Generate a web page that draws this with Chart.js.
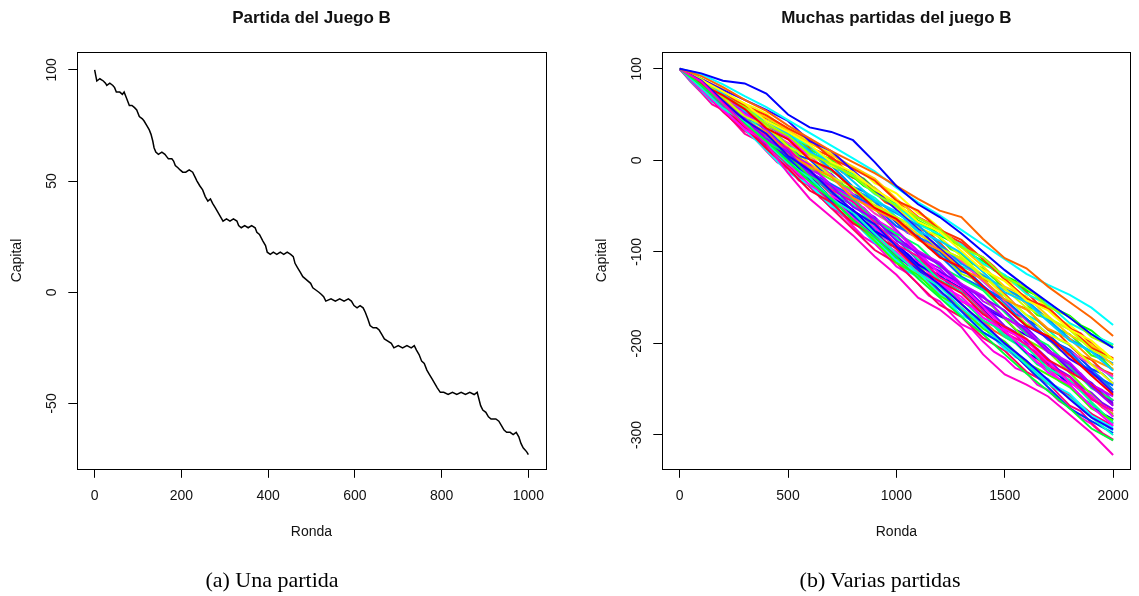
<!DOCTYPE html>
<html>
<head>
<meta charset="utf-8">
<script src="https://cdn.jsdelivr.net/npm/chart.js@4.4.1/dist/chart.umd.min.js"></script>
<style>
body { margin: 0; background: #fff; width: 1139px; height: 596px; position: relative; overflow: hidden; }
canvas { position: absolute; top: 0; }
#cA { left: 0; }
#cB { left: 585px; }
.cap { position: absolute; top: 569px; font-family: "Liberation Serif", serif; font-size: 22px; line-height: 22px; color: #000; transform: translateX(-50%); white-space: nowrap; }
</style>
</head>
<body>
<canvas id="cA" width="569" height="596"></canvas>
<canvas id="cB" width="554" height="596"></canvas>
<div class="cap" style="left:272px">(a) Una partida</div>
<div class="cap" style="left:880px">(b) Varias partidas</div>
<script>
// Panel (a): una partida
var rondaA = [0,3,5,12,20,25,28,35,42,46, 50,58,64,68,72,76,80,86,92,97,
  103,110,114,120,126,130,134,137,141,147, 155,162,166,170,178,182,186,192,197,203,
  210,218,226,231,236,242,249,255,261,267, 272,278,284,290,296,304,312,320,328,332,
  338,346,354,362,370,374,380,388,394,398, 405,412,420,428,436,444,452,458,462,468,
  474,480,486,492,498,503,510,517,523,528, 533,545,555,565,575,585,592,598,605,612,
  619,624,630,635,642,650,656,662,668,676, 684,690,700,710,720,730,737,742,748,754,
  760,766,772,778,784,790,797,805,815,825, 835,845,855,865,875,882,886,890,895,902,
  908,914,925,932,938,944,950,958,965,972, 978,983,988,993,997,1000];
var capitalA = [100,97,95,96,95,94,93,94,93,92, 90,90,89,90,88,86,84,84,83,82,
  79,78,77,75,73,71,68,65,63,62, 63,62,61,60,60,59,57,56,55,54,
  54,55,54,52,50,48,46,43,41,42, 40,38,36,34,32,33,32,33,32,30,
  29,30,29,30,29,27,26,23,21,18, 17,18,17,18,17,18,17,16,13,11,
  9,7,6,5,4,2,1,0,-1,-2, -4,-3,-4,-3,-4,-3,-4,-6,-7,-6,
  -7,-9,-12,-15,-16,-16,-17,-19,-21,-22, -23,-25,-24,-25,-24,-25,-24,-26,-28,-31,
  -32,-35,-37,-39,-41,-43,-45,-45,-46,-45, -46,-45,-46,-45,-46,-45,-48,-51,-53,-54,
  -56,-57,-57,-58,-60,-62,-63,-63,-64,-63, -65,-68,-70,-71,-72,-73];
var ticksXA = [0, 200, 400, 600, 800, 1000];
var ticksYA = [-50, 0, 50, 100];

// Panel (b): muchas partidas (cada 100 rondas)
var rondaB = [0,100,200,300,400,500,600,700,800,900,1000,1100,1200,1300,1400,1500,1600,1700,1800,1900,2000];
var p01 = [100,95,87,84,73,50,36,31,22,-2,-28,-48,-62,-80,-100,-120,-138,-155,-172,-190,-205];
var p02 = [100,92,80,66,54,38,24,10,-2,-14,-28,-42,-55,-62,-86,-107,-118,-138,-155,-172,-192];
var p03 = [100,94,83,70,58,44,30,16,2,-12,-30,-46,-60,-76,-92,-108,-124,-136,-147,-161,-180];
var p04 = [100,86,62,38,18,-14,-42,-62,-82,-105,-125,-150,-163,-182,-212,-234,-245,-258,-278,-298,-322];
var p05 = [100,82,61,40,21,-1,-23,-42,-65,-84,-106,-129,-150,-171,-190,-212,-233,-252,-271,-293,-306];
var p06 = [100,87,65,44,29,5,-11,-34,-55,-70,-94,-117,-136,-157,-178,-200,-219,-240,-261,-281,-294];
var p07 = [100,79,57,42,19,-3,-19,-42,-57,-80,-102,-123,-138,-161,-180,-202,-223,-244,-259,-281,-300];
var p08 = [100,83,71,56,35,23,1,-10,-31,-52,-64,-85,-106,-117,-138,-160,-181,-192,-213,-235,-256];
var p09 = [100,88,75,62,43,31,17,-2,-13,-32,-46,-67,-78,-99,-120,-132,-153,-164,-185,-197,-218];
var p10 = [100,77,55,34,21,-3,-27,-40,-63,-84,-100,-123,-136,-149,-172,-186,-209,-232,-245,-269,-290];
var p11 = [100,81,59,46,23,9,-15,-28,-51,-64,-88,-101,-114,-137,-150,-164,-187,-210,-223,-247,-268];
var p12 = [100,89,69,58,39,27,7,-4,-17,-36,-50,-63,-76,-95,-106,-128,-139,-160,-171,-193,-204];
var p13 = [100,83,61,40,17,3,-21,-44,-59,-82,-106,-119,-142,-165,-188,-202,-225,-248,-271,-285,-298];
var p14 = [100,87,73,54,43,29,9,-2,-23,-44,-56,-77,-88,-101,-122,-144,-155,-176,-197,-209,-230];
var p15 = [100,81,67,44,31,7,-7,-18,-41,-54,-66,-87,-98,-119,-130,-152,-163,-184,-195,-217,-228];
var p16 = [100,79,63,40,27,13,-11,-32,-45,-68,-92,-105,-128,-141,-164,-188,-201,-224,-237,-261,-274];
var p17 = [100,82,59,36,13,-9,-33,-46,-69,-82,-96,-119,-132,-145,-168,-182,-195,-218,-231,-245,-268];
var p18 = [100,89,77,66,55,43,21,10,-11,-32,-54,-75,-96,-117,-138,-160,-181,-194,-217,-231,-254];
var p19 = [100,85,63,42,29,5,-19,-42,-65,-88,-112,-125,-148,-161,-184,-198,-221,-234,-247,-271,-284];
var p20 = [100,83,69,48,37,15,3,-18,-29,-50,-62,-75,-96,-107,-128,-140,-161,-172,-185,-207,-218];
var p21 = [100,87,65,54,33,9,-5,-28,-41,-52,-76,-99,-112,-135,-148,-172,-185,-208,-221,-245,-258];
var p22 = [100,81,57,34,11,-13,-27,-50,-63,-86,-110,-123,-146,-169,-182,-206,-219,-242,-255,-279,-292];
var p23 = [100,88,73,60,49,35,23,2,-9,-22,-44,-55,-76,-87,-108,-130,-151,-162,-183,-205,-216];
var p24 = [100,80,58,44,21,7,-17,-30,-43,-66,-80,-93,-116,-129,-142,-166,-189,-202,-225,-249,-262];
var p25 = [100,86,71,50,39,25,3,-18,-41,-64,-78,-101,-124,-137,-160,-184,-197,-220,-243,-257,-280];
var p26 = [100,84,69,56,35,11,-13,-26,-39,-50,-72,-83,-104,-127,-140,-152,-173,-196,-209,-233,-246];
var p27 = [100,85,70,58,47,33,19,6,-7,-20,-42,-63,-74,-95,-116,-138,-149,-170,-191,-203,-224];
var p28 = [100,82,68,47,26,12,-12,-35,-48,-71,-85,-108,-131,-144,-167,-191,-204,-227,-240,-264,-287];
var p29 = [100,87,65,52,39,25,11,-10,-31,-44,-58,-71,-92,-113,-126,-140,-153,-174,-195,-209,-222];
var p30 = [100,78,53,32,19,-5,-29,-52,-75,-98,-112,-135,-158,-171,-194,-208,-231,-244,-257,-277,-290];
var p31 = [100,89,75,54,41,27,5,-6,-17,-30,-52,-73,-84,-105,-126,-148,-169,-190,-201,-223,-244];
var p32 = [100,83,61,48,25,1,-13,-36,-49,-62,-86,-109,-122,-135,-158,-172,-183,-206,-229,-243,-266];
var p33 = [100,88,74,61,40,28,16,-5,-16,-37,-49,-70,-81,-92,-113,-125,-146,-157,-178,-190,-201];
var p34 = [100,84,62,41,20,6,-18,-41,-54,-77,-91,-114,-127,-140,-163,-187,-210,-223,-246,-270,-283];
var p35 = [100,86,72,59,38,16,-8,-21,-32,-53,-77,-100,-113,-136,-149,-173,-196,-209,-232,-256,-279];
var p36 = [100,83,67,54,33,19,5,-16,-37,-58,-72,-85,-98,-111,-132,-154,-175,-196,-209,-223,-236];

// mas partidas (cada 50 rondas)
var rondaC = [0,50,100,150,200,250,300,350,400,450,500,550,600,650,700,750,800,850,900,950,1000,
  1050,1100,1150,1200,1250,1300,1350,1400,1450,1500,1550,1600,1650,1700,1750,1800,1850,1900,1950,2000];
var q01 = [100,89,82,70,63,50,43,31,25,13,1,-6,-18,-24,-36,-48,-55,-67,-73,-85,-92,-105,-110,-123,-134,-141,-154,-159,-172,-178,-191,-197,-209,-221,-227,-239,-246,-258,-270,-276,-288];
var q02 = [100,92,86,76,71,61,55,46,40,34,24,18,9,3,-6,-12,-18,-28,-34,-44,-50,-56,-66,-72,-82,-88,-94,-104,-110,-120,-126,-132,-142,-148,-158,-164,-170,-180,-186,-196,-202];
var q03 = [100,88,77,70,58,46,39,27,15,9,-4,-16,-22,-35,-46,-53,-66,-77,-84,-90,-102,-114,-120,-133,-144,-151,-164,-175,-182,-194,-206,-213,-225,-237,-243,-256,-268,-274,-287,-298,-305];
var q04 = [100,91,85,74,64,58,47,43,32,22,16,5,1,-10,-15,-26,-37,-42,-53,-57,-68,-79,-84,-95,-99,-110,-121,-126,-137,-147,-153,-164,-174,-180,-190,-201,-207,-217,-228,-233,-244];
var q05 = [100,90,79,72,61,54,42,36,30,20,14,7,-4,-11,-16,-27,-33,-43,-49,-54,-65,-71,-81,-87,-97,-103,-109,-119,-125,-135,-141,-147,-157,-163,-173,-179,-185,-195,-201,-211,-217];
var q06 = [100,87,76,64,58,45,33,27,14,3,-4,-17,-28,-35,-47,-59,-66,-78,-90,-96,-109,-121,-127,-134,-145,-157,-164,-176,-188,-194,-204,-215,-220,-233,-239,-251,-258,-270,-277,-288,-295];
var q07 = [100,93,88,82,72,67,61,51,46,41,30,25,14,9,4,-7,-19,-23,-35,-46,-51,-63,-74,-79,-90,-102,-107,-118,-130,-134,-146,-158,-162,-174,-185,-190,-202,-213,-218,-229,-234];
var q08 = [100,89,78,71,60,48,36,30,18,12,0,-7,-12,-23,-28,-39,-45,-55,-67,-73,-85,-92,-103,-115,-121,-133,-140,-151,-158,-169,-181,-188,-199,-206,-217,-229,-236,-247,-254,-265,-272];
var q09 = [100,94,85,80,75,64,59,54,43,39,33,22,12,6,1,-10,-15,-20,-31,-41,-47,-58,-69,-74,-85,-97,-102,-113,-118,-129,-141,-146,-157,-169,-173,-185,-190,-201,-213,-217,-229];
var q10 = [100,86,74,61,55,42,29,23,10,-2,-9,-22,-28,-41,-47,-60,-67,-72,-85,-91,-104,-111,-116,-129,-135,-141,-154,-160,-166,-178,-185,-191,-203,-210,-222,-229,-242,-248,-261,-267,-280];
var q11 = [100,92,82,76,70,59,53,48,37,32,26,15,10,-1,-6,-17,-29,-34,-45,-56,-62,-73,-84,-90,-100,-112,-118,-128,-140,-145,-156,-168,-173,-184,-195,-201,-212,-223,-229,-239,-251];
var q12 = [100,88,81,69,58,51,39,28,21,16,4,-3,-14,-26,-32,-44,-56,-62,-74,-85,-92,-104,-115,-122,-133,-145,-152,-163,-175,-181,-193,-200,-211,-223,-229,-241,-248,-259,-266,-277,-284];
var q13 = [100,93,87,75,69,63,52,47,41,31,25,19,9,3,-2,-13,-19,-24,-30,-40,-46,-52,-62,-68,-78,-84,-90,-100,-106,-116,-128,-134,-144,-156,-161,-172,-184,-189,-200,-211,-217];
var q14 = [100,90,80,68,62,50,38,32,26,15,8,-4,-10,-16,-27,-34,-46,-52,-64,-75,-82,-94,-100,-112,-118,-130,-137,-142,-154,-160,-172,-179,-190,-197,-208,-215,-227,-233,-245,-251,-263];
var q15 = [100,94,89,83,78,67,62,57,51,41,35,29,19,13,8,-3,-9,-14,-25,-30,-36,-47,-58,-64,-74,-86,-92,-102,-114,-119,-130,-136,-146,-152,-162,-174,-180,-190,-202,-207,-218];
var q16 = [100,87,75,68,56,43,36,24,11,5,-8,-21,-27,-40,-52,-59,-72,-84,-91,-103,-116,-123,-135,-148,-154,-167,-179,-185,-198,-209,-216,-227,-232,-245,-251,-263,-270,-281,-288,-299,-306];
var q17 = [100,91,81,73,63,57,50,40,34,28,17,11,5,-6,-11,-18,-29,-34,-41,-51,-62,-68,-78,-89,-94,-105,-116,-121,-132,-142,-148,-159,-169,-175,-185,-196,-202,-212,-223,-228,-239];
var q18 = [100,89,78,66,55,48,36,25,18,7,-5,-12,-23,-35,-41,-53,-60,-71,-78,-89,-96,-102,-113,-120,-125,-137,-144,-149,-161,-167,-173,-185,-191,-197,-208,-215,-227,-233,-245,-256,-263];
var q19 = [100,92,87,81,71,65,59,54,43,38,27,15,10,-1,-12,-18,-29,-40,-46,-56,-68,-74,-84,-96,-101,-112,-124,-129,-140,-151,-157,-168,-179,-185,-195,-207,-213,-223,-235,-240,-251];
var q20 = [100,88,82,70,64,52,40,34,22,11,4,-8,-19,-26,-37,-49,-56,-67,-79,-85,-97,-109,-115,-127,-138,-145,-157,-168,-175,-186,-193,-199,-210,-217,-228,-235,-241,-252,-259,-270,-277];

var partidasB = [p01,p02,p03,p04,p05,p06,p07,p08,p09,p10,p11,p12,p13,p14,p15,p16,p17,p18,
  p19,p20,p21,p22,p23,p24,p25,p26,p27,p28,p29,p30,p31,p32,p33,p34,p35,p36];
var partidasC = [q01,q02,q03,q04,q05,q06,q07,q08,q09,q10,q11,q12,q13,q14,q15,q16,q17,q18,q19,q20];
var coloresB = ["#0000FF","#FF6600","#00FFFF","#FF00CC","#00FF33","#1A00FF","#00FFCC","#FF0000","#FFFF00",
  "#FF00FF","#9900FF","#99FF00","#0033FF","#00CCFF","#FF9900","#FF0099","#FF0033","#3300FF",
  "#33FF00","#CCFF00","#CC00FF","#00FFFF","#FF3300","#00FF66","#FF00FF","#0066FF","#FFCC00",
  "#00FF99","#0099FF","#FF0066","#E5FF00","#6600FF","#00FFE5","#0000FF","#66FF00","#FF33CC"];
var coloresC = ["#FF00FF","#00FF00","#FF0080","#0040FF","#FFD000","#00E0FF","#FF4000","#8000FF","#40FF00","#FF00A0",
  "#0080FF","#00FF80","#FF2020","#C000FF","#FFFF00","#FF00E0","#00FFC0","#2000FF","#A0FF00","#FF6020"];
var ticksXB = [0, 500, 1000, 1500, 2000];
var ticksYB = [-300, -200, -100, 0, 100];

var fuente = '"Liberation Sans", Arial, sans-serif';
var tinta = '#111';

// marco del grafico y etiquetas del eje y giradas, como en R
var marcoR = {
  id: 'marcoR',
  afterDraw: function(chart) {
    var ctx = chart.ctx, a = chart.chartArea, y = chart.scales.y;
    ctx.save();
    ctx.strokeStyle = '#000';
    ctx.lineWidth = 1;
    var l = Math.round(a.left) + 0.5, t = Math.round(a.top) + 0.5;
    var r = Math.round(a.right) + 0.5, b = Math.round(a.bottom) + 0.5;
    ctx.strokeRect(l, t, r - l, b - t);
    ctx.fillStyle = tinta;
    ctx.font = '14px ' + fuente;
    ctx.textAlign = 'center';
    ctx.textBaseline = 'middle';
    y.ticks.forEach(function(tk) {
      var py = y.getPixelForValue(tk.value);
      ctx.save();
      ctx.translate(a.left - 25.3, py);
      ctx.rotate(-Math.PI / 2);
      ctx.fillText(String(tk.value), 0, 0);
      ctx.restore();
    });
    ctx.restore();
  }
};

function opciones(titulo, xmin, xmax, ymin, ymax, tx, ty, padRight) {
  return {
    responsive: false,
    animation: false,
    layout: { padding: { left: 0, right: padRight, top: 0, bottom: 47.2 } },
    plugins: {
      legend: { display: false },
      tooltip: { enabled: false },
      title: {
        display: true, text: titulo, fullSize: false, color: tinta,
        font: { family: fuente, size: 17, weight: 'bold' },
        padding: { top: 8, bottom: 23.9 }
      }
    },
    scales: {
      x: {
        type: 'linear', min: xmin, max: xmax,
        afterBuildTicks: function(s) { s.ticks = tx.map(function(v) { return { value: v }; }); },
        afterFit: function(s) { s.height = 80; },
        grid: { drawOnChartArea: false, drawTicks: true, tickLength: 9, color: '#000', lineWidth: 1 },
        border: { display: false },
        ticks: {
          font: { family: fuente, size: 14 }, color: tinta, padding: 10, maxRotation: 0, autoSkip: false,
          callback: function(v) { return String(v); }
        },
        title: { display: true, text: 'Ronda', color: tinta, font: { family: fuente, size: 14 }, padding: { top: 0, bottom: 8.4 } }
      },
      y: {
        type: 'linear', min: ymin, max: ymax,
        afterBuildTicks: function(s) { s.ticks = ty.map(function(v) { return { value: v }; }); },
        afterFit: function(s) { s.width = 77.3; },
        grid: { drawOnChartArea: false, drawTicks: true, tickLength: 9, color: '#000', lineWidth: 1 },
        border: { display: false },
        ticks: { display: false },
        title: { display: true, text: 'Capital', color: tinta, font: { family: fuente, size: 14 }, padding: { top: 9.1, bottom: 0 } }
      }
    }
  };
}

var ctx = document.getElementById('cA').getContext('2d');
var graficoA = new Chart(ctx, {
  type: 'line',
  data: {
    datasets: [{
      data: rondaA.map(function(x, i) { return { x: x, y: capitalA[i] }; }),
      borderColor: '#000',
      borderWidth: 1.5,
      pointRadius: 0,
      tension: 0,
      fill: false
    }]
  },
  options: opciones('Partida del Juego B', -40, 1040, -79.4, 107.9, ticksXA, ticksYA, 23.3),
  plugins: [marcoR]
});

function serie(xs, ys, color) {
  return {
    data: xs.map(function(x, i) { return { x: x, y: ys[i] }; }),
    borderColor: color,
    borderWidth: 2,
    pointRadius: 0,
    tension: 0,
    fill: false
  };
}

var conjuntos = partidasB.map(function(s, k) { return serie(rondaB, s, coloresB[k]); })
  .concat(partidasC.map(function(s, k) { return serie(rondaC, s, coloresC[k]); }));

var ctx = document.getElementById('cB').getContext('2d');
var graficoB = new Chart(ctx, {
  type: 'line',
  data: { datasets: conjuntos },
  options: opciones('Muchas partidas del juego B', -80, 2080, -337, 118, ticksXB, ticksYB, 8),
  plugins: [marcoR]
});
</script>
</body>
</html>
